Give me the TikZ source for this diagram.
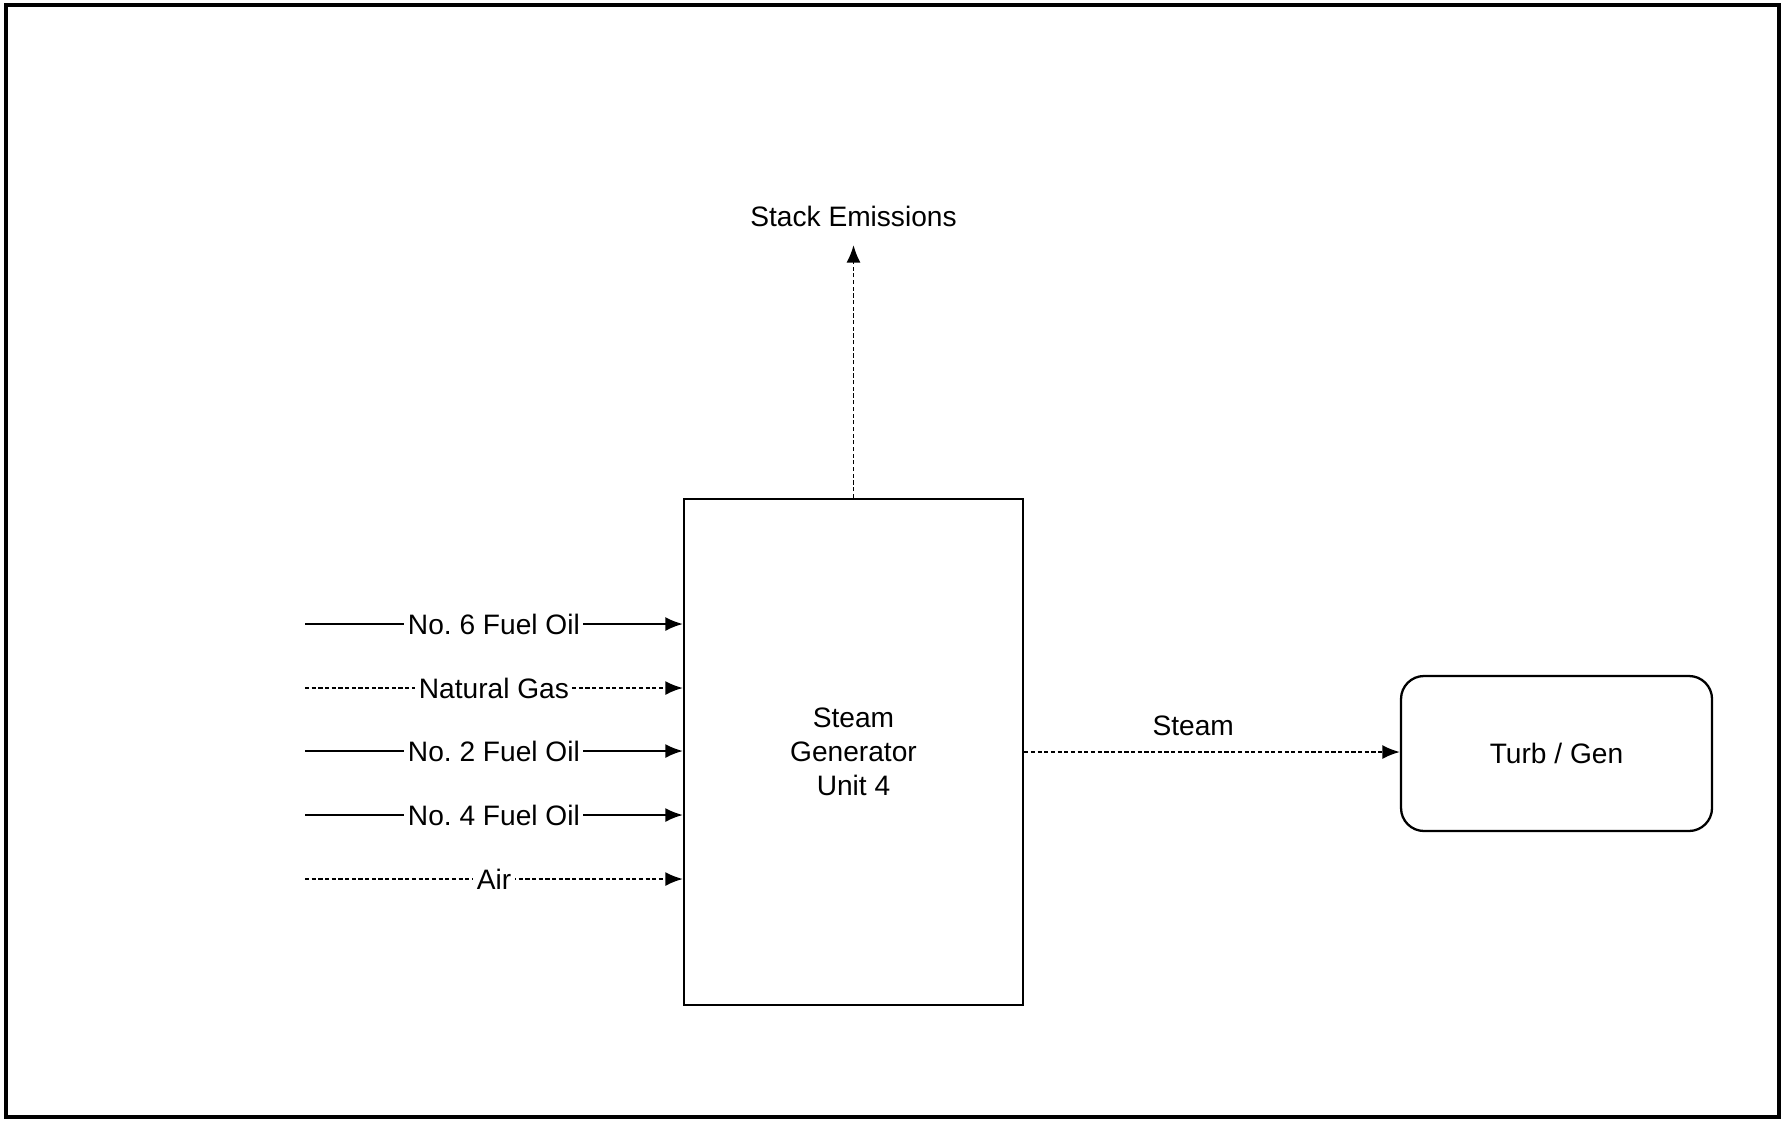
\documentclass[tikz,border=0pt]{standalone}
\usepackage{fontspec}
\setmainfont{Liberation Sans}
\usepackage{tikz}
\usetikzlibrary{positioning, arrows.meta, calc}

\begin{document}
\begin{tikzpicture}[>={Latex[length=5pt,width=4pt]}, line width=0.55pt,
    font=\fontsize{8}{9.6}\selectfont,
    unitbox/.style={draw, line width=0.65pt, align=center},
    feed/.style={->},
    feedgas/.style={->, dash pattern=on 1.2pt off 0.7pt},
    flowlbl/.style={fill=white, inner sep=1pt}]
  \useasboundingbox (0,0) rectangle (17.82,-11.2);
  \draw[line width=1.2pt] (0.06,-0.05) rectangle (17.79,-11.17);

  \node[unitbox, minimum width=3.39cm, minimum height=5.06cm] (SG) at (8.535, -7.52) {Steam\\Generator\\Unit 4};
  \node[unitbox, rounded corners=0.23cm, minimum width=3.11cm, minimum height=1.55cm] (TG) at (15.565, -7.535) {Turb / Gen};

  \coordinate (f6) at (3.05, -6.24);
  \coordinate (ng) at (3.05, -6.88);
  \coordinate (f2) at (3.05, -7.51);
  \coordinate (f4) at (3.05, -8.15);
  \coordinate (air) at (3.05, -8.79);
  \coordinate (stack) at (8.535, -2.45);

  \draw[feed] (f6) -- (f6 -| SG.west) node[midway, flowlbl] {No.\ 6 Fuel Oil};
  \draw[feedgas] (ng) -- (ng -| SG.west) node[midway, flowlbl] {Natural Gas};
  \draw[feed] (f2) -- (f2 -| SG.west) node[midway, flowlbl] {No.\ 2 Fuel Oil};
  \draw[feed] (f4) -- (f4 -| SG.west) node[midway, flowlbl] {No.\ 4 Fuel Oil};
  \draw[feedgas] (air) -- (air -| SG.west) node[midway, flowlbl] {Air};

  \draw[feedgas] (SG.north) -- (stack);
  \node (SE) at (8.535, -2.16) {Stack Emissions};

  \draw[feedgas] (SG.east) -- (SG.east -| TG.west) node[pos=0.45, above=0.04cm] {Steam};
\end{tikzpicture}
\end{document}
